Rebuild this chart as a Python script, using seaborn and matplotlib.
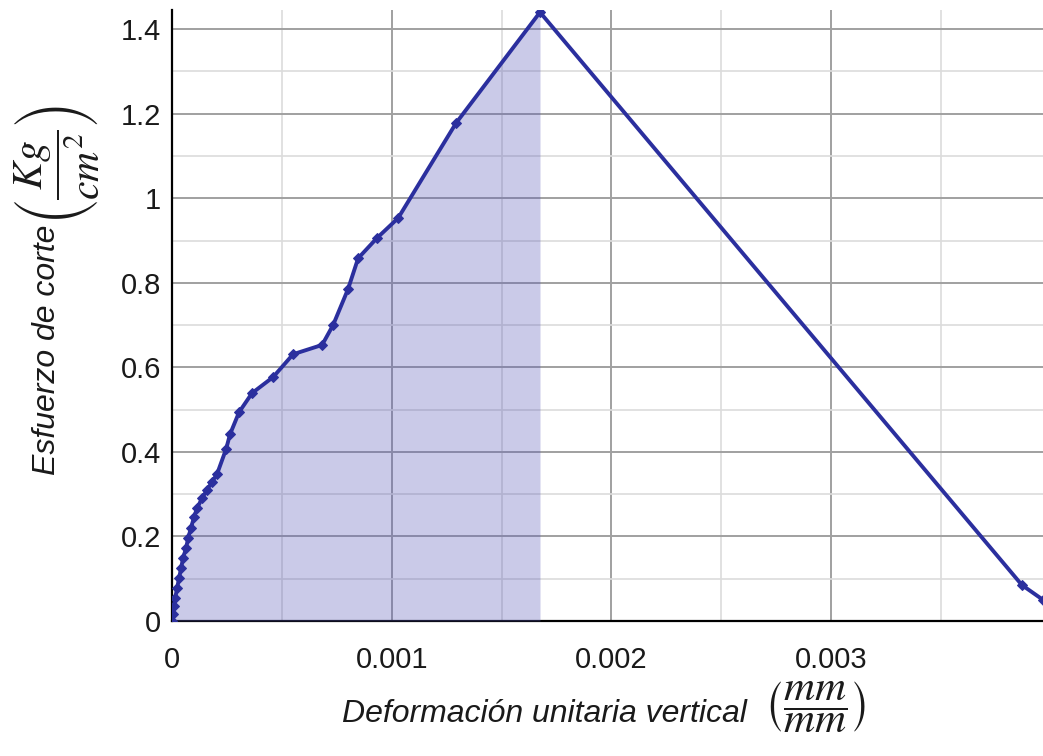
import numpy as np
import pandas as pd
import matplotlib
matplotlib.use("Agg")
import matplotlib.pyplot as plt
import seaborn as sns
from matplotlib.ticker import MultipleLocator, FuncFormatter

# deformacion unitaria vertical (mm/mm) y esfuerzo de corte (Kg/cm2)
deformacion = [0.0, 0.000002, 0.000009, 0.000014, 0.000023, 0.000032, 0.000041,
               0.000050, 0.000064, 0.000073, 0.000086, 0.000100, 0.000114,
               0.000137, 0.000159, 0.000182, 0.000205, 0.000246, 0.000264,
               0.000305, 0.000364, 0.000460, 0.000551, 0.000683, 0.000733,
               0.000801, 0.000847, 0.000933, 0.001029, 0.001293, 0.001675,
               0.003869, 0.003965]
esfuerzo = [0.0, 0.017, 0.035, 0.054, 0.078, 0.102, 0.125, 0.149, 0.173, 0.196,
            0.220, 0.246, 0.267, 0.291, 0.310, 0.329, 0.348, 0.407, 0.442,
            0.494, 0.539, 0.577, 0.631, 0.653, 0.700, 0.785, 0.858, 0.906,
            0.953, 1.178, 1.440, 0.085, 0.050]
pico = 30  # indice del esfuerzo maximo

df = pd.DataFrame({"deformacion": deformacion, "esfuerzo": esfuerzo})

sns.set_style("white")
plt.rcParams["font.family"] = ["Liberation Sans", "DejaVu Sans"]
plt.rcParams["mathtext.fontset"] = "stix"

W, H = 1043, 756
fig = plt.figure(figsize=(W / 100, H / 100), dpi=100)
ax = fig.add_axes([0.165, 0.1786, 0.835, 0.808])

color_linea = "#2b2f9e"

# area bajo la curva hasta el pico
ax.fill_between(deformacion[:pico + 1], esfuerzo[:pico + 1], 0,
                color="#5a5ab8", alpha=0.32, linewidth=0, zorder=3)

sns.lineplot(data=df, x="deformacion", y="esfuerzo", sort=False, estimator=None,
             color=color_linea, linewidth=2.8, marker="D", markersize=5,
             markeredgecolor=color_linea, ax=ax, zorder=4)

ax.set_xlim(0, 0.003965)
ax.set_ylim(0, 1.445)
ax.xaxis.set_major_locator(MultipleLocator(0.001))
ax.xaxis.set_minor_locator(MultipleLocator(0.0005))
ax.yaxis.set_major_locator(MultipleLocator(0.2))
ax.yaxis.set_minor_locator(MultipleLocator(0.1))
ax.xaxis.set_major_formatter(FuncFormatter(lambda v, p: f"{v:g}"))
ax.yaxis.set_major_formatter(FuncFormatter(lambda v, p: f"{v:g}"))

ax.grid(which="major", color="#a0a0a0", linewidth=1.4, zorder=1)
ax.grid(which="minor", color="#dcdcdc", linewidth=1.2, zorder=1)
ax.set_axisbelow(True)

for s in ["top", "right"]:
    ax.spines[s].set_visible(False)
for s in ["left", "bottom"]:
    ax.spines[s].set_color("black")
    ax.spines[s].set_linewidth(1.6)

ax.tick_params(axis="both", which="both", length=0, labelsize=21,
               labelcolor="#1a1a1a")
ax.tick_params(axis="x", pad=18)
ax.tick_params(axis="y", pad=8)
ax.set_xlabel("")
ax.set_ylabel("")

# etiquetas de los ejes: texto + fraccion de unidades
def px(x, y):
    return x / W, 1 - y / H

fig.text(*px(544, 714), "Deformación unitaria vertical", fontsize=23,
         fontstyle="italic", ha="center", va="center", color="#1a1a1a")
fig.text(*px(815, 707), r"$\left(\dfrac{mm}{mm}\right)$", fontsize=31,
         ha="center", va="center", color="#1a1a1a")
fig.text(*px(47, 350), "Esfuerzo de corte", fontsize=23, fontstyle="italic",
         rotation=90, ha="center", va="center", color="#1a1a1a")
fig.text(*px(57, 165), r"$\left(\dfrac{Kg}{cm^2}\right)$", fontsize=30,
         rotation=90, ha="center", va="center", color="#1a1a1a")

fig.savefig("out.png", dpi=100)
